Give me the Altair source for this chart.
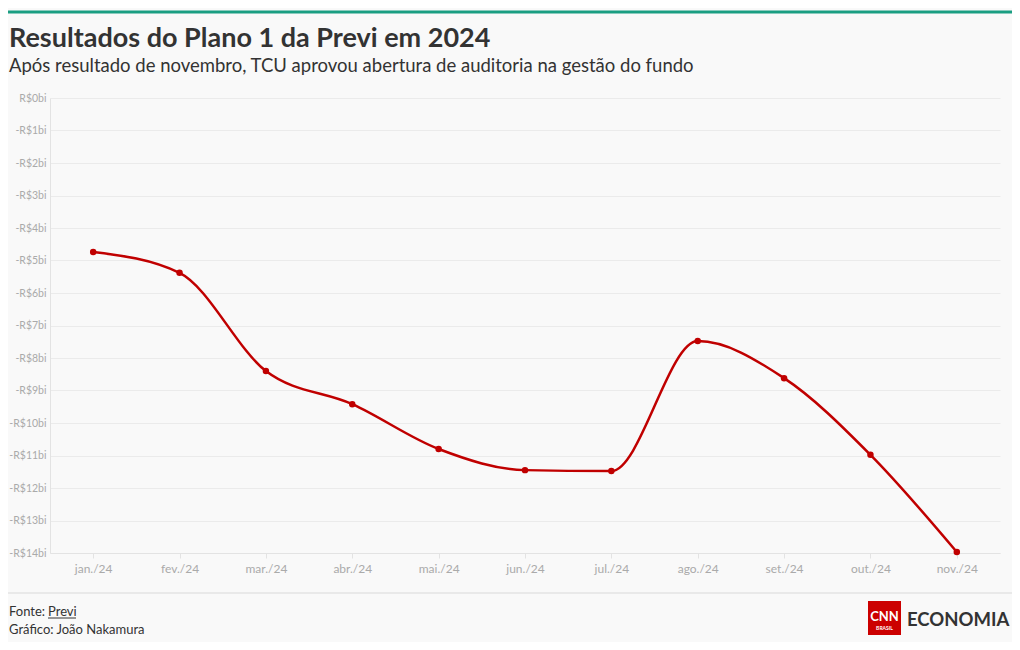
import altair as alt
import pandas as pd

months = ["jan./24", "fev./24", "mar./24", "abr./24", "mai./24", "jun./24",
          "jul./24", "ago./24", "set./24", "out./24", "nov./24"]
values = [-4.74, -5.38, -8.40, -9.42, -10.80, -11.45, -11.48, -7.48, -8.62, -10.98, -13.97]
y_ticks = [0, -1, -2, -3, -4, -5, -6, -7, -8, -9, -10, -11, -12, -13, -14]

title = "Resultados do Plano 1 da Previ em 2024"
subtitle = "Após resultado de novembro, TCU aprovou abertura de auditoria na gestão do fundo"
source_label = "Fonte: "
source_name = "Previ"
credit = "Gráfico: João Nakamura"

FONT = "Lato"
TOTAL_W, TOTAL_H = 1004, 634
PL, PT = 42, 90
W, H = 950, 455

df = pd.DataFrame({"mes": months, "valor": values})

x_enc = alt.X("mes:O", sort=months, title=None,
              scale=alt.Scale(type="point", padding=0.5),
              axis=alt.Axis(labelAngle=0, labelColor="#aaaaaa", labelFontSize=12,
                            labelFont=FONT, domainColor="#e3e3e3", tickColor="#e3e3e3",
                            tickSize=5, labelPadding=5, grid=False))
y_enc = alt.Y("valor:Q", title=None,
              scale=alt.Scale(domain=[-14, 0], nice=False, zero=False),
              axis=alt.Axis(values=y_ticks, labelColor="#aaaaaa", labelFontSize=10.5,
                            labelFont=FONT, ticks=False, labelPadding=4,
                            domainColor="#e3e3e3", gridColor="#ebebeb",
                            labelExpr="datum.value == 0 ? 'R$0bi' : '-R$' + abs(datum.value) + 'bi'"))

base = alt.Chart(df)
line = base.mark_line(color="#c00000", strokeWidth=2.5, interpolate="monotone").encode(x=x_enc, y=y_enc)
pts = base.mark_circle(color="#c00000", size=42, opacity=1).encode(x=x_enc, y=y_enc)


def one():
    return alt.Chart(pd.DataFrame({"a": [0]}))


def txt(s, x, y, size, color="#333333", weight="normal", align="left", font=FONT):
    return one().mark_text(align=align, baseline="alphabetic", fontSize=size, fontWeight=weight,
                           color=color, font=font).encode(
        x=alt.value(x), y=alt.value(y), text=alt.value(s))


def rule(x1, x2, y1, y2, color, width):
    return one().mark_rule(color=color, strokeWidth=width).encode(
        x=alt.value(x1), x2=alt.value(x2), y=alt.value(y1), y2=alt.value(y2))


def rect(x1, x2, y1, y2, color):
    return one().mark_rect(color=color).encode(
        x=alt.value(x1), x2=alt.value(x2), y=alt.value(y1), y2=alt.value(y2))


ox, oy = -PL - 8, -PT - 8  # convert image coords to plot coords

layers = [
    rule(ox + 0, ox + 1020, oy + 12, oy + 12, "#1a9e82", 3),
    txt(title, ox + 9, oy + 47, 27, weight="bold"),
    txt(subtitle, ox + 9, oy + 72, 18.5),
    line, pts,
    rule(ox + 0, ox + 1020, oy + 593, oy + 593, "#d9d9d9", 1),
    txt(source_label, ox + 9, oy + 616, 13),
    txt(source_name, ox + 48, oy + 616, 13),
    rule(ox + 48, ox + 76, oy + 618, oy + 618, "#333333", 1),
    txt(credit, ox + 9, oy + 634, 13),
    rect(ox + 868, ox + 901, oy + 601, oy + 635, "#cc0000"),
    txt("CNN", ox + 884.5, oy + 621, 13, color="#ffffff", weight="bold", align="center"),
    txt("BRASIL", ox + 884.5, oy + 630, 5, color="#ffffff", weight="bold", align="center"),
    txt("ECONOMIA", ox + 907, oy + 626, 18.5, color="#333333", weight="bold"),
]

chart = alt.layer(*layers).properties(
    width=W, height=H,
    autosize=alt.AutoSizeParams(type="none"),
    padding={"left": PL, "top": PT, "right": TOTAL_W - PL - W, "bottom": TOTAL_H - PT - H},
    background="#f9f9f9",
).configure_view(stroke=None)

chart.save("out.html", embed_options={"renderer": "svg", "actions": False})
